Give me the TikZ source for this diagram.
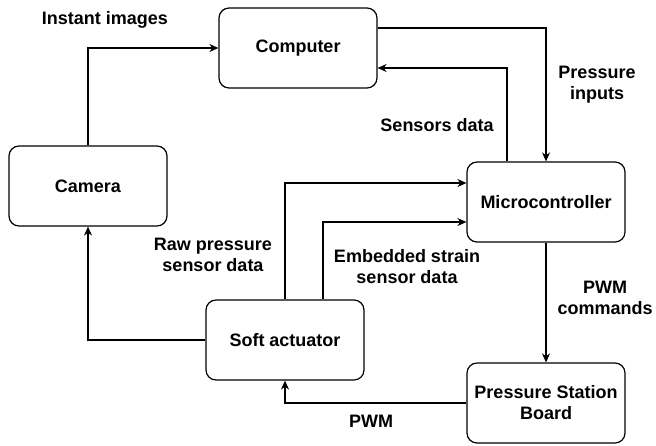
\documentclass[tikz,border=0pt]{standalone}
\usepackage{fontspec}
\setmainfont{Liberation Sans}
\usetikzlibrary{arrows.meta}
\begin{document}
\begin{tikzpicture}[x=0.5pt,y=-0.5pt,
	block/.style={draw,rounded corners=5pt,minimum width=79pt,minimum height=40pt,align=center,line width=0.6pt,font=\bfseries\fontsize{9}{10.5}\selectfont},
	lbl/.style={align=center,font=\bfseries\fontsize{9}{10.5}\selectfont},
	flow/.style={-{Stealth[length=4.5pt,width=4pt]},line width=0.6pt}]
		\useasboundingbox (0,0) rectangle (656,445);
		% Blocks
		\node[block] (Computer) at (298,48) {Computer};
		\node[block] (Camera) at (88,186) {Camera};
		\node[block] (Micro) at (546,202) {Microcontroller};
		\node[block] (Actuator) at (285,340) {Soft actuator};
		\node[block] (Board) at (546,403) {Pressure Station\\Board};

		% Links
		\draw[flow] (Camera.north) |- (Computer.west);
		\draw[flow] ([yshift=10pt]Computer.east) -| (Micro.north);
		\draw[flow] ([xshift=-19.5pt]Micro.north) |- ([yshift=-10pt]Computer.east);
		\draw[flow] (Actuator.north) |- ([yshift=9.5pt]Micro.west);
		\draw[flow] ([xshift=19pt]Actuator.north) |- ([yshift=-10pt]Micro.west);
		\draw[flow] (Micro.south) -- (Board.north);
		\draw[flow] (Board.west) -| (Actuator.south);
		\draw[flow] (Actuator.west) -| (Camera.south);

		% Labels
		\node[lbl] (InstantLbl) at (105,20) {Instant images};
		\node[lbl] (InputsLbl) at (597,85) {Pressure\\inputs};
		\node[lbl] (SensorsLbl) at (437,125) {Sensors data};
		\node[lbl] (RawLbl) at (213,255) {Raw pressure\\sensor data};
		\node[lbl] (StrainLbl) at (407,267) {Embedded strain\\sensor data};
		\node[lbl] (CommandsLbl) at (605,298) {PWM\\commands};
		\node[lbl] (PwmLbl) at (371,421) {PWM};
		
		\end{tikzpicture}
\end{document}
